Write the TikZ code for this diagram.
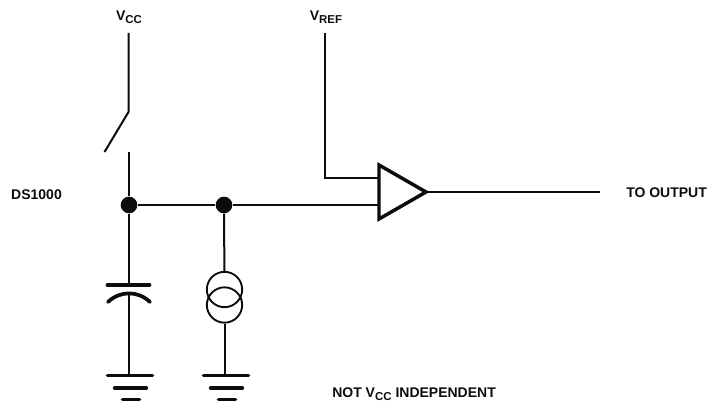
\documentclass[tikz,border=0pt]{standalone}
\usepackage{fontspec}
\setmainfont{Liberation Sans}
\definecolor{ink}{HTML}{0C0C0C}
\newcommand{\lowtext}[1]{\raisebox{-0.38ex}{\fontsize{8.6}{9}\selectfont #1}}
\tikzset{
	wire/.style={ink,line width=1.5pt},
	plate/.style={ink,line width=2.8pt,line cap=round},
	dot/.style={circle,fill=ink,inner sep=0pt,minimum size=12.5pt},
	loop/.style={circle,draw=ink,line width=1.4pt,inner sep=0pt,minimum size=26.5pt},
	label/.style={ink,inner sep=0pt,font=\bfseries\fontsize{10.5}{12}\selectfont},
}
\begin{document}
\begin{tikzpicture}[x=0.75pt,y=-0.75pt]

\newcommand{\drawGround}%
{
	\coordinate (L1) at (-22,0);
	\coordinate (R1) at (23,0);
	\coordinate (L2) at (-15,12.5);
	\coordinate (R2) at (17,12.5);
	\coordinate (L3) at (-7,24);
	\coordinate (R3) at (10,24);

	\draw[plate] (L1) -- (R1);% Top Bar
	\draw[plate,line width=2.4pt] (L2) -- (R2);% Middle Bar
	\draw[plate] (L3) -- (R3);% Bottom Bar
}

\useasboundingbox (0,0) rectangle (709,409);

\node[label] (vcc) at (129,17.5) {V\lowtext{CC}};
\node[label] (vref) at (326,17.5) {V\lowtext{REF}};
\node[label] (ds) at (36.5,194.5) {DS1000};
\node[label,anchor=west] (out) at (626,193) {TO OUTPUT};
\node[label,anchor=west] (note) at (332,394) {NOT V\lowtext{CC} INDEPENDENT};

\coordinate (vcctop) at (128.5,33);
\coordinate (hinge) at (128.5,112);
\coordinate (blade) at (104.5,152);
\coordinate (contact) at (129,152);
\coordinate (vreftop) at (325,33);
\coordinate (vrefbend) at (325,178);
\coordinate (capup) at (129,285);
\coordinate (caplow) at (129,293);
\coordinate (gndA) at (129,375);
\coordinate (gndB) at (224.5,375);
\coordinate (outend) at (600,192);

\node[dot] (n1) at (129,205) {};
\node[dot] (n2) at (224,205) {};
\node[loop] (s1) at (224.5,289.5) {};
\node[loop] (s2) at (224.5,305) {};

\coordinate (ampA) at (379,165);
\coordinate (ampB) at (379,219);
\coordinate (ampC) at (426,192);
\coordinate (inA) at (379,178);
\coordinate (inB) at (379,205);

\draw[wire] (vcctop) -- (hinge) -- (blade);% Switch
\draw[wire] (contact) -- (n1);
\draw[wire] (n1) -- (capup);
\draw[wire] (n1) -- (n2);
\draw[wire] (n2) -- (inB);
\draw[wire] (n2) -- (s1);
\draw[wire] (s2) -- (gndB);
\draw[wire] (vreftop) -- (vrefbend) -- (inA);
\draw[wire] (ampC) -- (outend);
\draw[wire] (caplow) -- (gndA);

\draw[plate] (107.5,285) -- (149.5,285);% Top Plate
\draw[plate] (108,302) .. controls (120,290.5) and (138,290.5) .. (150,302);% Bottom Plate

\draw[ink,line width=2.6pt,line join=miter,fill=white] (ampA) -- (ampC) -- (ampB) -- cycle;% Buffer

\begin{scope}[shift={(129.5,375.5)}]
\drawGround
\end{scope}
\begin{scope}[shift={(225.5,375.5)}]
\drawGround
\end{scope}

\end{tikzpicture}
\end{document}
